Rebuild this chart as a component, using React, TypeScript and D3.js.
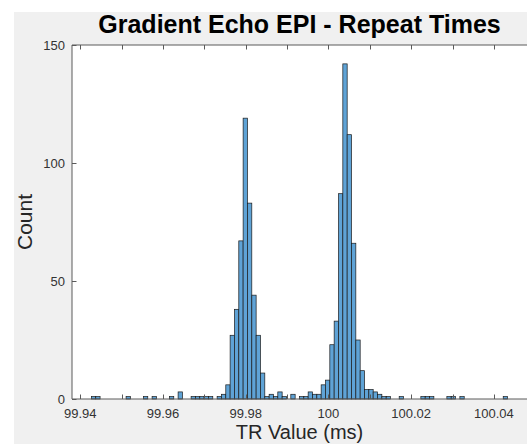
import React, { useEffect, useRef } from "react";
import * as d3 from "d3";

const title = "Gradient Echo EPI - Repeat Times";
const xLabel = "TR Value (ms)";
const yLabel = "Count";

// histogram: first bin edge and bin width in ms, then the counts
const binStart = 99.9385;
const binWidth = 0.001048;
const counts = [
  0, 0, 0, 0, 1, 1, 0, 0, 0, 0,
  0, 0, 1, 0, 0, 0, 1, 0, 1, 0,
  0, 0, 1, 0, 3, 0, 0, 1, 1, 1,
  1, 1, 0, 1, 2, 6, 27, 38, 67, 119,
  83, 44, 27, 11, 1, 2, 1, 3, 1, 0,
  2, 0, 1, 1, 3, 2, 2, 6, 8, 23,
  33, 87, 142, 112, 66, 25, 12, 4, 4, 3,
  2, 1, 1, 0, 0, 1, 0, 0, 0, 0,
  1, 1, 1, 0, 0, 0, 1, 1, 0, 1,
  0, 0, 0, 0, 0, 0, 0, 0, 0, 1,
];

const xTicks = [99.94, 99.95, 99.96, 99.97, 99.98, 99.99, 100, 100.01, 100.02, 100.03, 100.04];
const xTickLabels = ["99.94", "", "99.96", "", "99.98", "", "100", "", "100.02", "", "100.04"];
const yTicks = [0, 50, 100, 150];
const yTickLabels = ["0", "50", "100", "150"];

const W = 527;
const H = 444;
const font = "'Liberation Sans', Arial, sans-serif";

const App = () => {
  const svgRef = useRef(null);

  useEffect(() => {
    const svg = d3.select(svgRef.current);
    svg.selectAll("*").remove();

    const left = 72, right = 527, top = 45, bottom = 399;

    const x = d3.scaleLinear().domain([99.938, 100.048]).range([left, right]);
    const y = d3.scaleLinear().domain([0, 150]).range([bottom, top]);

    // figure background
    svg.append("rect").attr("width", W).attr("height", H).attr("fill", "#fff");
    svg.append("rect").attr("x", 14).attr("y", 12).attr("width", W - 14).attr("height", H - 12).attr("fill", "#f0f0f0");
    svg.append("rect").attr("x", left).attr("y", top).attr("width", right - left).attr("height", bottom - top).attr("fill", "#fff");

    const bins = counts.map((c, i) => ({ x0: binStart + i * binWidth, x1: binStart + (i + 1) * binWidth, c }));

    svg.append("g")
      .selectAll("rect")
      .data(bins.filter((d) => d.c > 0))
      .enter()
      .append("rect")
      .attr("x", (d) => x(d.x0))
      .attr("y", (d) => y(d.c))
      .attr("width", (d) => x(d.x1) - x(d.x0))
      .attr("height", (d) => y(0) - y(d.c))
      .attr("fill", "#5fa3d6")
      .attr("stroke", "#1a1a1a")
      .attr("stroke-width", 0.7);

    const axisColor = "#5a5a5a";
    const tk = 4.5;

    // box lines
    svg.append("line").attr("x1", left).attr("x2", right).attr("y1", top).attr("y2", top).attr("stroke", axisColor);
    svg.append("line").attr("x1", left).attr("x2", right).attr("y1", bottom).attr("y2", bottom).attr("stroke", axisColor);
    svg.append("line").attr("x1", left).attr("x2", left).attr("y1", top).attr("y2", bottom).attr("stroke", axisColor);

    // x ticks (inside, top and bottom)
    const gx = svg.append("g");
    xTicks.forEach((t, i) => {
      const px = Math.round(x(t)) + 0.5;
      gx.append("line").attr("x1", px).attr("x2", px).attr("y1", bottom).attr("y2", bottom - tk).attr("stroke", axisColor);
      gx.append("line").attr("x1", px).attr("x2", px).attr("y1", top).attr("y2", top + tk).attr("stroke", axisColor);
      if (xTickLabels[i]) {
        gx.append("text")
          .attr("x", x(t))
          .attr("y", 418)
          .attr("text-anchor", "middle")
          .attr("font-family", font)
          .attr("font-size", 13)
          .attr("fill", "#333")
          .text(xTickLabels[i]);
      }
    });

    // y ticks
    const gy = svg.append("g");
    yTicks.forEach((t, i) => {
      const py = Math.round(y(t)) + 0.5;
      gy.append("line").attr("x1", left).attr("x2", left + tk).attr("y1", py).attr("y2", py).attr("stroke", axisColor);
      gy.append("text")
        .attr("x", 65)
        .attr("y", y(t) + 4.5)
        .attr("text-anchor", "end")
        .attr("font-family", font)
        .attr("font-size", 13)
        .attr("fill", "#333")
        .text(yTickLabels[i]);
    });

    svg.append("text")
      .attr("x", (left + right) / 2)
      .attr("y", 33)
      .attr("text-anchor", "middle")
      .attr("font-family", font)
      .attr("font-size", 25)
      .attr("font-weight", "bold")
      .attr("fill", "#000")
      .text(title);

    svg.append("text")
      .attr("x", (left + right) / 2)
      .attr("y", 439)
      .attr("text-anchor", "middle")
      .attr("font-family", font)
      .attr("font-size", 20)
      .attr("fill", "#262626")
      .text(xLabel);

    svg.append("text")
      .attr("transform", `translate(32,${(top + bottom) / 2}) rotate(-90)`)
      .attr("text-anchor", "middle")
      .attr("font-family", font)
      .attr("font-size", 21)
      .attr("fill", "#262626")
      .text(yLabel);
  }, []);

  return (
    <div style={{ position: "fixed", left: 0, top: 0 }}>
      <svg ref={svgRef} width={W} height={H} style={{ display: "block" }} />
    </div>
  );
};

export default App;
